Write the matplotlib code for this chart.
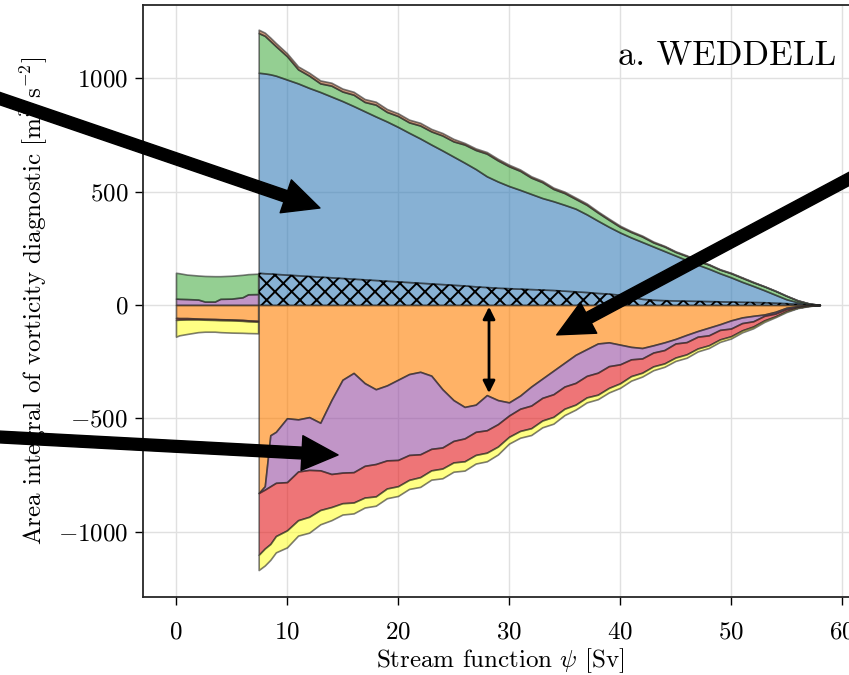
import numpy as np
import matplotlib
matplotlib.use('Agg')
import matplotlib.pyplot as plt
from matplotlib.colors import to_rgba

plt.rcParams['font.family'] = ['cmr10']
plt.rcParams['mathtext.fontset'] = 'cm'
plt.rcParams['axes.formatter.use_mathtext'] = True
plt.rcParams['hatch.linewidth'] = 1.4

# ---------------- data ----------------
# left segment (psi between 0 and ~7.4 Sv)
x_left = [0, 0.3, 1, 2, 2.6, 3.5, 4, 5, 6, 6.5, 7.4]
left_purple_top = [28, 27, 26, 24, 15, 15, 27, 28, 34, 47, 48]
left_green_top = [142, 140, 134, 130, 128, 127, 127, 129, 133, 136, 138]
left_orange_bot = [-57, -58, -58, -60, -61, -62, -63, -64, -66, -68, -70]
left_red_bot = [-66, -65, -64, -64, -65, -66, -67, -68, -70, -72, -74]
left_yellow_bot = [-140, -134, -128, -120, -118, -118, -120, -122, -123, -124, -125]

# main segment
x_main = [7.45, 8, 8.5, 9] + list(range(10, 59))
hatch_top = [142, 140, 139, 137, 134, 131, 128, 125, 122, 119,
             116, 113, 110, 107, 104, 101, 98, 95, 92, 89,
             86, 82, 79, 76, 74, 72, 70, 68, 66, 63,
             60, 57, 53, 50, 45, 36, 27, 23, 21, 20,
             19, 18, 17, 16, 15, 14, 13, 12, 10, 8,
             5, 2, 0]
blue_top = [1025, 1022, 1018, 1012, 995, 978, 958, 940, 920, 900,
            878, 855, 832, 810, 786, 760, 735, 708, 682, 655,
            628, 600, 568, 545, 525, 508, 490, 472, 458, 442,
            425, 400, 372, 345, 320, 298, 278, 258, 238, 218,
            198, 178, 160, 140, 122, 102, 84, 65, 45, 25,
            12, 4, 0]
green_top = [1200, 1188, 1165, 1142, 1098, 1040, 1012, 978, 968, 942,
             928, 896, 884, 852, 834, 806, 792, 766, 748, 722,
             708, 684, 668, 638, 612, 592, 562, 542, 512, 494,
             468, 442, 408, 376, 345, 322, 302, 276, 258, 234,
             216, 194, 178, 156, 140, 120, 100, 82, 62, 40,
             20, 7, 0]
brown_top = [1215, 1202, 1180, 1156, 1111, 1053, 1025, 991, 981, 955,
             941, 909, 897, 865, 846, 818, 804, 777, 759, 733,
             715, 691, 675, 645, 619, 598, 568, 548, 518, 500,
             474, 448, 413, 381, 350, 326, 306, 280, 261, 237,
             219, 197, 180, 158, 142, 122, 102, 83, 63, 41,
             21, 7, 0]
orange_bot = [-830, -800, -575, -560, -500, -505, -495, -520, -420, -330,
              -300, -345, -372, -355, -330, -305, -295, -312, -372, -420,
              -450, -440, -398, -420, -430, -400, -360, -325, -290, -255,
              -220, -195, -170, -165, -175, -185, -190, -178, -165, -150,
              -132, -115, -100, -85, -68, -55, -48, -42, -30, -12,
              -6, -2, 0]
purple_bot = [-830, -815, -800, -785, -782, -735, -728, -730, -746, -740,
              -738, -710, -702, -686, -684, -662, -659, -635, -629, -600,
              -589, -560, -553, -526, -488, -458, -444, -410, -394, -360,
              -344, -313, -299, -270, -262, -240, -236, -210, -199, -170,
              -164, -140, -134, -110, -104, -80, -72, -48, -38, -18,
              -9, -2, 0]
red_bot = [-1103, -1075, -1055, -1020, -995, -950, -935, -905, -892, -875,
           -872, -850, -845, -810, -800, -772, -760, -730, -722, -695,
           -690, -662, -652, -625, -582, -556, -544, -510, -494, -458,
           -440, -408, -396, -366, -346, -314, -299, -271, -258, -232,
           -218, -192, -178, -152, -138, -112, -95, -68, -50, -27,
           -12, -4, 0]
yellow_bot = [-1170, -1150, -1125, -1092, -1070, -1018, -1005, -968, -950, -925,
              -920, -894, -886, -853, -843, -812, -803, -771, -765, -736,
              -731, -700, -690, -660, -612, -586, -574, -540, -524, -486,
              -462, -430, -416, -386, -366, -334, -316, -288, -273, -247,
              -233, -205, -190, -163, -148, -121, -103, -75, -54, -31,
              -14, -5, 0]

x_ticks = [0, 10, 20, 30, 40, 50, 60]
y_ticks = [-1000, -500, 0, 500, 1000]

C = dict(red='#e41a1c', blue='#377eb8', green='#4daf4a', purple='#984ea3',
         orange='#ff7f00', yellow='#ffff33', brown='#a65628')

# ---------------- figure ----------------
fig = plt.figure(figsize=(8.49, 6.75), dpi=100)
ax = fig.add_axes([143/849, 78/675, 714/849, 592/675])

EDGE = (0.15, 0.15, 0.15, 0.6)


def band(x, lo, hi, color):
    ax.fill_between(x, lo, hi, facecolor=to_rgba(color, 0.6), edgecolor=EDGE,
                    lw=1.2, zorder=2)


zero_l = [0] * len(x_left)
zero_m = [0] * len(x_main)

# left segment
band(x_left, zero_l, left_purple_top, C['purple'])
band(x_left, left_purple_top, left_green_top, C['green'])
band(x_left, zero_l, left_orange_bot, C['orange'])
band(x_left, left_orange_bot, left_red_bot, C['red'])
band(x_left, left_red_bot, left_yellow_bot, C['yellow'])

# main segment, positive
band(x_main, zero_m, hatch_top, C['blue'])
band(x_main, hatch_top, blue_top, C['blue'])
band(x_main, blue_top, green_top, C['green'])
band(x_main, green_top, brown_top, C['brown'])
ax.fill_between(x_main, zero_m, hatch_top, facecolor='none', edgecolor='k',
                hatch='xx', lw=0, zorder=3)
# main segment, negative
band(x_main, zero_m, orange_bot, C['orange'])
band(x_main, orange_bot, purple_bot, C['purple'])
band(x_main, purple_bot, red_bot, C['red'])
band(x_main, red_bot, yellow_bot, C['yellow'])

ax.set_xlim(-2.97, 61.35)
ax.set_ylim(-1289, 1324)
ax.set_xticks(x_ticks)
ax.set_yticks(y_ticks)
ax.grid(True, color='0.88', lw=1.0)
ax.set_axisbelow(True)
ax.tick_params(labelsize=18, length=5.5, width=1)
ax.tick_params(axis='x', pad=12)
ax.tick_params(axis='y', pad=5)
for s in ax.spines.values():
    s.set_linewidth(1.3)
    s.set_color('0.15')

ax.set_xlabel(r'Stream function $\psi$ [Sv]', fontsize=18, labelpad=2)
ax.set_ylabel(r'Area integral of vorticity diagnostic [m$^3$ s$^{-2}$]',
              fontsize=18, labelpad=6)
ax.text(59.46, 1059, 'a. WEDDELL', fontsize=25, ha='right', va='baseline',
        zorder=6)

# arrows
akw = dict(facecolor='k', edgecolor='k', width=8.5, headwidth=25,
           headlength=26, shrink=0)
ax.annotate('', xy=(12.97, 428), xytext=(-17.6, 940), arrowprops=akw,
            annotation_clip=False, zorder=7)
ax.annotate('', xy=(34.3, -132), xytext=(62.5, 605), arrowprops=akw,
            annotation_clip=False, zorder=7)
ax.annotate('', xy=(14.6, -662), xytext=(-17.7, -578), arrowprops=akw,
            annotation_clip=False, zorder=7)
ax.annotate('', xy=(28.2, -389), xytext=(28.2, -8),
            arrowprops=dict(arrowstyle='<|-|>', color='k', lw=2,
                            mutation_scale=18, shrinkA=0, shrinkB=0),
            zorder=7)

fig.savefig('out.png', dpi=100)
